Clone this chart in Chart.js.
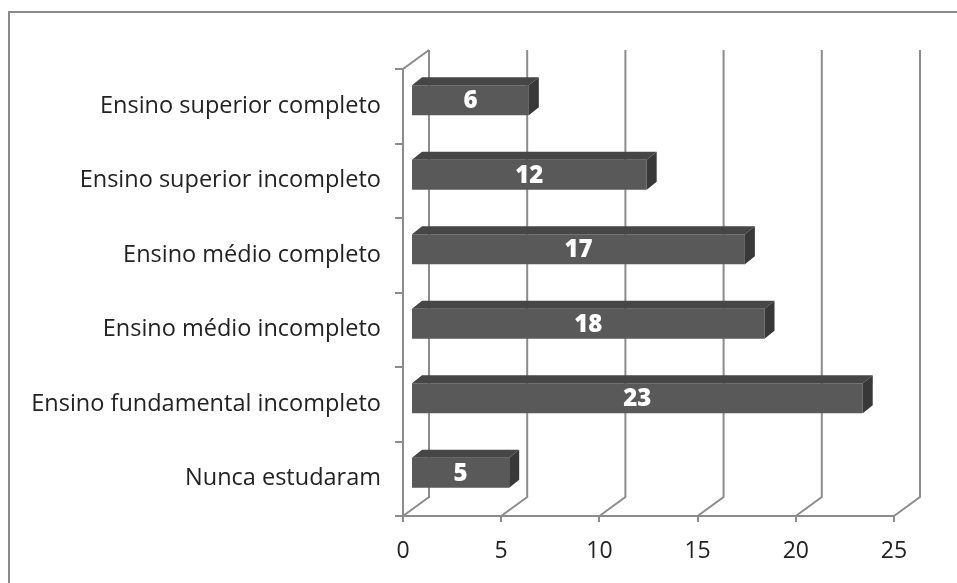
<!DOCTYPE html>
<html lang="pt-br">
<head>
  <meta charset="UTF-8" />
  <title>Escolaridade</title>
  <script src="https://cdn.jsdelivr.net/npm/chart.js"></script>
  <style>
    html, body {
      margin: 0;
      padding: 0;
      background: #fff;
      overflow: hidden;
    }
    /* moldura da área do gráfico (sai pela direita e por baixo) */
    .moldura {
      position: absolute;
      left: 8px;
      top: 11px;
      width: 980px;
      height: 620px;
      border: 2px solid #8a8a8a;
      box-sizing: border-box;
    }
    #grafico {
      position: absolute;
      left: 0;
      top: 0;
    }
  </style>
</head>
<body>
  <div class="moldura"></div>
  <canvas id="grafico" width="957" height="583"></canvas>

  <script>
    // ---------------------
    // Dados
    // ---------------------
    const categorias = [
      'Ensino superior completo',
      'Ensino superior incompleto',
      'Ensino médio completo',
      'Ensino médio incompleto',
      'Ensino fundamental incompleto',
      'Nunca estudaram'
    ];
    const valores = [6, 12, 17, 18, 23, 5];
    const ticksX = [0, 5, 10, 15, 20, 25];

    // ---------------------
    // Estilo / efeito 3D
    // ---------------------
    const COR_GRADE = '#8c8c8c';
    const COR_FRENTE = '#595959';
    const COR_TOPO = '#464646';
    const COR_LADO = '#383838';
    const FONTE = '"Open Sans", sans-serif';

    const PAREDE = { dx: 26, dy: -19 };   // deslocamento da parede do fundo
    const BARRA = { dx: 8, dy: -6 };      // posição da barra dentro da profundidade
    const PROF = { dx: 10, dy: -8 };      // espessura das barras

    const efeito3d = {
      id: 'efeito3d',
      beforeDatasetsDraw(chart) {
        const { ctx, scales: { x, y } } = chart;
        const topo = y.top, base = y.bottom;

        ctx.save();
        ctx.strokeStyle = COR_GRADE;
        ctx.lineWidth = 2;
        ctx.beginPath();
        ticksX.forEach(v => {
          const px = x.getPixelForValue(v);
          ctx.moveTo(px, base);
          ctx.lineTo(px + PAREDE.dx, base + PAREDE.dy);
          ctx.lineTo(px + PAREDE.dx, topo + PAREDE.dy);
        });
        // aresta de cima da parede lateral
        const x0 = x.getPixelForValue(0);
        ctx.moveTo(x0, topo);
        ctx.lineTo(x0 + PAREDE.dx, topo + PAREDE.dy);
        ctx.stroke();
        ctx.restore();

        // as barras ficam um pouco para dentro da profundidade
        ctx.save();
        ctx.translate(BARRA.dx, BARRA.dy);
      },
      afterDatasetsDraw(chart) {
        const { ctx } = chart;
        const meta = chart.getDatasetMeta(0);
        meta.data.forEach((bar, i) => {
          const { x: fim, y: meio, base, height } = bar.getProps(['x', 'y', 'base', 'height'], true);
          const cima = meio - height / 2, baixo = meio + height / 2;

          // face de cima
          ctx.fillStyle = COR_TOPO;
          ctx.beginPath();
          ctx.moveTo(base, cima);
          ctx.lineTo(base + PROF.dx, cima + PROF.dy);
          ctx.lineTo(fim + PROF.dx, cima + PROF.dy);
          ctx.lineTo(fim, cima);
          ctx.closePath();
          ctx.fill();

          // face lateral
          ctx.fillStyle = COR_LADO;
          ctx.beginPath();
          ctx.moveTo(fim, cima);
          ctx.lineTo(fim + PROF.dx, cima + PROF.dy);
          ctx.lineTo(fim + PROF.dx, baixo + PROF.dy);
          ctx.lineTo(fim, baixo);
          ctx.closePath();
          ctx.fill();

          // rótulo do valor
          ctx.fillStyle = '#ffffff';
          ctx.font = '800 24px ' + FONTE;
          ctx.textAlign = 'center';
          ctx.textBaseline = 'middle';
          ctx.fillText(String(valores[i]), (base + fim) / 2, meio + 1);
        });
        ctx.restore();
      }
    };

    const ctx = document.getElementById('grafico').getContext('2d');

    new Chart(ctx, {
      type: 'bar',
      data: {
        labels: categorias,
        datasets: [{
          data: valores,
          backgroundColor: COR_FRENTE,
          borderWidth: 0,
          barPercentage: 0.4,
          categoryPercentage: 1
        }]
      },
      options: {
        indexAxis: 'y',
        responsive: false,
        animation: false,
        devicePixelRatio: 1,
        layout: {
          padding: { top: 69, right: 63, left: 0, bottom: 0 }
        },
        scales: {
          x: {
            min: 0,
            max: 25,
            afterBuildTicks(scale) {
              scale.ticks = ticksX.map(v => ({ value: v }));
            },
            afterFit(scale) {
              scale.height = 67;
            },
            grid: {
              drawOnChartArea: false,
              drawTicks: true,
              tickLength: 6,
              color: COR_GRADE,
              lineWidth: 2
            },
            border: { color: COR_GRADE, width: 2 },
            ticks: {
              padding: 16,
              color: '#222',
              font: { family: FONTE, size: 23 }
            }
          },
          y: {
            afterFit(scale) {
              scale.width = 403;
            },
            grid: {
              drawOnChartArea: false,
              drawTicks: true,
              tickLength: 8,
              offset: true,
              color: COR_GRADE,
              lineWidth: 2
            },
            border: { color: COR_GRADE, width: 2 },
            ticks: {
              padding: 14,
              color: '#222',
              font: { family: FONTE, size: 23.5 }
            }
          }
        },
        plugins: {
          legend: { display: false },
          tooltip: { enabled: false }
        }
      },
      plugins: [efeito3d]
    });
  </script>
</body>
</html>
